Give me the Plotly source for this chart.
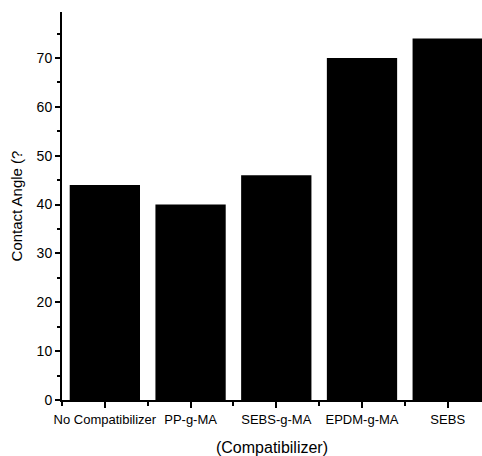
import plotly.graph_objects as go

categories = ["No Compatibilizer", "PP-g-MA", "SEBS-g-MA", "EPDM-g-MA", "SEBS"]
contact_angle = [44.0, 40.0, 46.0, 70.0, 74.0]
y_ticks = [0, 10, 20, 30, 40, 50, 60, 70]

xpos = list(range(len(categories)))

fig = go.Figure()
fig.add_trace(go.Bar(
    x=xpos, y=contact_angle, width=0.82,
    marker=dict(color="black", line=dict(width=0)),
))

font = "Liberation Sans, Arial, sans-serif"
fig.update_layout(
    width=482, height=456,
    margin=dict(l=62, r=0, t=12, b=56),
    paper_bgcolor="white", plot_bgcolor="white",
    showlegend=False,
    font=dict(family=font, color="black"),
    xaxis=dict(
        range=[-0.5, 4.40],
        tickmode="array", tickvals=xpos, ticktext=categories,
        tickfont=dict(size=13, family=font),
        ticks="outside", ticklen=6, tickwidth=1.5, tickcolor="black",
        minor=dict(ticks="outside", ticklen=4, tickwidth=1.5, tickcolor="black", tick0=0.5, dtick=1),
        showline=True, linecolor="black", linewidth=2,
        showgrid=False, zeroline=False,
        title=dict(text="(Compatibilizer)", font=dict(size=16, family=font), standoff=16),
    ),
    yaxis=dict(
        range=[0, 79.4],
        tickmode="array", tickvals=y_ticks,
        tickfont=dict(size=14, family=font),
        ticks="outside", ticklen=5, tickwidth=1.5, tickcolor="black",
        minor=dict(ticks="outside", ticklen=3, tickwidth=1.5, tickcolor="black", tick0=5, dtick=10),
        showline=True, linecolor="black", linewidth=2,
        showgrid=False, zeroline=False,
        title=dict(text="Contact Angle (?", font=dict(size=15, family=font), standoff=10),
    ),
)

fig.write_html(
    "out.html",
    config={"displayModeBar": False},
    post_script="document.body.style.margin='0';document.body.style.overflow='hidden';",
)
